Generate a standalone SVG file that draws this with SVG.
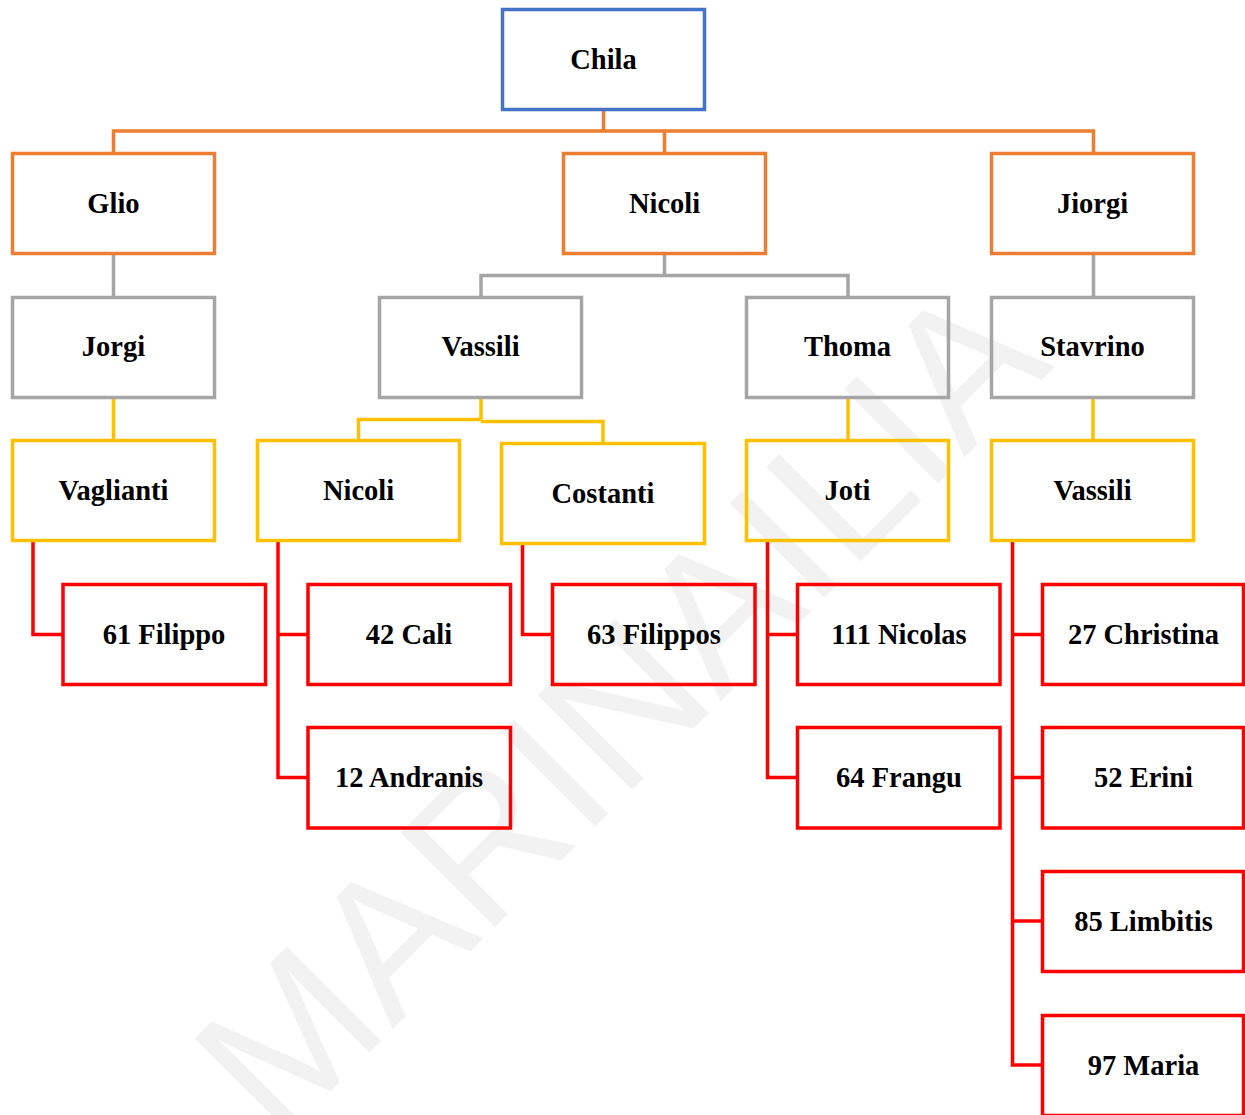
<svg xmlns="http://www.w3.org/2000/svg" width="1245" height="1115" viewBox="0 0 1245 1115">
<style>
.box{fill:none;stroke-width:3.5}
.blue{stroke:#4472C4}
.orange{stroke:#ED7D31}
.gray{stroke:#A5A5A5}
.yellow{stroke:#FFC000}
.red{stroke:#FF0000}
.lbl{font-family:"Liberation Serif","Times New Roman",serif;font-weight:bold;font-size:28.5px;fill:#000;text-anchor:middle}
.conn{fill:none;stroke-width:3.5}
.wm{font-family:"Liberation Sans",Arial,sans-serif;font-size:194px;fill:#F2F2F2}
</style>
<rect x="0" y="0" width="1245" height="1115" fill="#FFFFFF"/>
<text class="wm" transform="translate(278,1144) rotate(-45)">MARINAILIA</text>
<g id="connectors">
<path class="conn orange" d="M603.5,110 V131 M113.5,153 V131 H1093.5 V153 M664.5,131 V153"/>
<path class="conn gray" d="M113.5,254 V297 M664.5,254 V275.5 M481,297 V275.5 H848 V297 M1093.5,254 V297"/>
<path class="conn yellow" d="M113.5,398 V440 M481,398 V419.5 M358.5,440 V419.5 H481 M481,421.5 H603 V443 M848,398 V440 M1093,398 V440"/>
<path class="conn red" d="M33,541 V634.5 H63"/>
<path class="conn red" d="M278,541 V777.5 H307 M278,634.5 H307"/>
<path class="conn red" d="M522.5,544 V634.5 H552"/>
<path class="conn red" d="M767.5,541 V777.5 H797 M767.5,634.5 H797"/>
<path class="conn red" d="M1012.5,541 V1065 H1042 M1012.5,634.5 H1042 M1012.5,777.5 H1042 M1012.5,921 H1042"/>
</g>
<g id="n-chila"><rect class="box blue" x="502.5" y="9.5" width="202" height="100"/><text class="lbl" x="603.5" y="69">Chila</text></g>
<g id="n-glio"><rect class="box orange" x="12.5" y="153.5" width="202" height="100"/><text class="lbl" x="113.5" y="213">Glio</text></g>
<g id="n-nicoli1"><rect class="box orange" x="563.5" y="153.5" width="202" height="100"/><text class="lbl" x="664.5" y="213">Nicoli</text></g>
<g id="n-jiorgi"><rect class="box orange" x="991.5" y="153.5" width="202" height="100"/><text class="lbl" x="1092.5" y="213">Jiorgi</text></g>
<g id="n-jorgi"><rect class="box gray" x="12.5" y="297.5" width="202" height="100"/><text class="lbl" x="113.5" y="356">Jorgi</text></g>
<g id="n-vassili1"><rect class="box gray" x="379.5" y="297.5" width="202" height="100"/><text class="lbl" x="480.5" y="356">Vassili</text></g>
<g id="n-thoma"><rect class="box gray" x="746.5" y="297.5" width="202" height="100"/><text class="lbl" x="847.5" y="356">Thoma</text></g>
<g id="n-stavrino"><rect class="box gray" x="991.5" y="297.5" width="202" height="100"/><text class="lbl" x="1092.5" y="356">Stavrino</text></g>
<g id="n-vaglianti"><rect class="box yellow" x="12.5" y="440.5" width="202" height="100"/><text class="lbl" x="113.5" y="500">Vaglianti</text></g>
<g id="n-nicoli2"><rect class="box yellow" x="257.5" y="440.5" width="202" height="100"/><text class="lbl" x="358.5" y="500">Nicoli</text></g>
<g id="n-costanti"><rect class="box yellow" x="501.5" y="443.5" width="203" height="100"/><text class="lbl" x="603" y="503">Costanti</text></g>
<g id="n-joti"><rect class="box yellow" x="746.5" y="440.5" width="202" height="100"/><text class="lbl" x="847.5" y="500">Joti</text></g>
<g id="n-vassili2"><rect class="box yellow" x="991.5" y="440.5" width="202" height="100"/><text class="lbl" x="1092.5" y="500">Vassili</text></g>
<g id="n-61filippo"><rect class="box red" x="63" y="584.5" width="202.5" height="100"/><text class="lbl" x="164" y="644">61 Filippo</text></g>
<g id="n-42cali"><rect class="box red" x="308" y="584.5" width="202.5" height="100"/><text class="lbl" x="409" y="644">42 Cali</text></g>
<g id="n-63filippos"><rect class="box red" x="552.5" y="584.5" width="202.5" height="100"/><text class="lbl" x="654" y="644">63 Filippos</text></g>
<g id="n-111nicolas"><rect class="box red" x="797.5" y="584.5" width="202.5" height="100"/><text class="lbl" x="899" y="644">111 Nicolas</text></g>
<g id="n-27christina"><rect class="box red" x="1042.5" y="584.5" width="201" height="100"/><text class="lbl" x="1143.5" y="644">27 Christina</text></g>
<g id="n-12andranis"><rect class="box red" x="308" y="727.5" width="202.5" height="100.5"/><text class="lbl" x="409" y="787">12 Andranis</text></g>
<g id="n-64frangu"><rect class="box red" x="797.5" y="727.5" width="202.5" height="100.5"/><text class="lbl" x="899" y="787">64 Frangu</text></g>
<g id="n-52erini"><rect class="box red" x="1042.5" y="727.5" width="201" height="100.5"/><text class="lbl" x="1143.5" y="787">52 Erini</text></g>
<g id="n-85limbitis"><rect class="box red" x="1042.5" y="871.5" width="201" height="100"/><text class="lbl" x="1143.5" y="931">85 Limbitis</text></g>
<g id="n-97maria"><rect class="box red" x="1042.5" y="1015.5" width="201" height="100"/><text class="lbl" x="1143.5" y="1075">97 Maria</text></g>
</svg>
